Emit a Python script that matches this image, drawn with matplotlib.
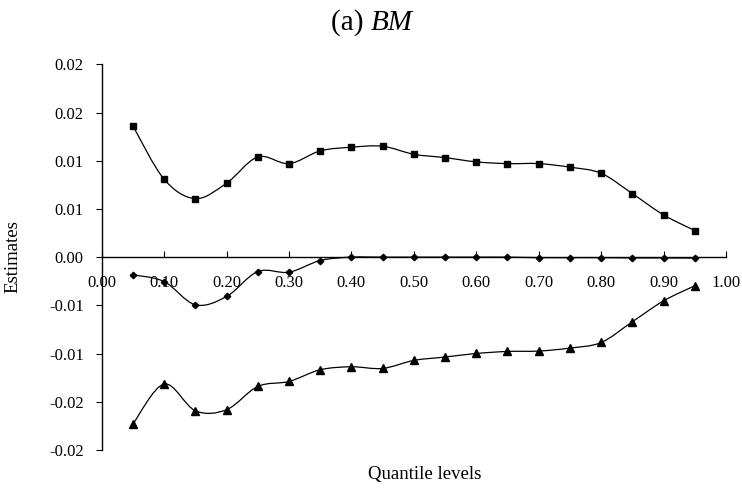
import numpy as np
import matplotlib
matplotlib.use("Agg")
import matplotlib.pyplot as plt
from matplotlib.path import Path
from matplotlib.patches import PathPatch

plt.rcParams['font.family'] = ['Liberation Serif', 'DejaVu Serif']

quantiles = [0.05, 0.10, 0.15, 0.20, 0.25, 0.30, 0.35, 0.40, 0.45, 0.50,
             0.55, 0.60, 0.65, 0.70, 0.75, 0.80, 0.85, 0.90, 0.95]
squares = [0.01361, 0.00808, 0.00607, 0.00767, 0.01039, 0.00970, 0.01102, 0.01140, 0.01150, 0.01067,
           0.01032, 0.00988, 0.00970, 0.00970, 0.00933, 0.00870, 0.00659, 0.00438, 0.00276]
diamonds = [-0.00183, -0.00253, -0.00494, -0.00408, -0.00149, -0.00156, -0.00035, 0.0, 0.0, 0.0,
            0.0, 0.0, 0.0, -0.00005, -0.00005, -0.00005, -0.00008, -0.00008, -0.0001]
triangles = [-0.01731, -0.01316, -0.01593, -0.01582, -0.01341, -0.01289, -0.01168, -0.01137, -0.01154, -0.01071,
             -0.01036, -0.00999, -0.00978, -0.00974, -0.00943, -0.00885, -0.00670, -0.00453, -0.00297]

ytick_vals = [0.02, 0.015, 0.01, 0.005, 0.0, -0.005, -0.01, -0.015, -0.02]
ytick_labels = ['0.02', '0.02', '0.01', '0.01', '0.00', '-0.01', '-0.01', '-0.02', '-0.02']
xtick_vals = [0.0, 0.1, 0.2, 0.3, 0.4, 0.5, 0.6, 0.7, 0.8, 0.9, 1.0]


def smooth_path(x, y):
    # Excel style smoothed line: cubic bezier with catmull-rom control points
    pts = np.column_stack([x, y])
    n = len(pts)
    verts = [pts[0]]
    codes = [Path.MOVETO]
    for i in range(n - 1):
        p0 = pts[max(i - 1, 0)]
        p1 = pts[i]
        p2 = pts[i + 1]
        p3 = pts[min(i + 2, n - 1)]
        c1 = p1 + (p2 - p0) / 6.0
        c2 = p2 - (p3 - p1) / 6.0
        verts += [c1, c2, p2]
        codes += [Path.CURVE4] * 3
    return Path(verts, codes)


fig = plt.figure(figsize=(7.42, 4.88), dpi=100)
ax = fig.add_axes([101.7 / 742, 1 - 450 / 488, (726 - 101.7) / 742, (450 - 64.3) / 488])

for vals, mk, ms in [(squares, 's', 4.8), (diamonds, 'D', 3.3), (triangles, '^', 5.2)]:
    ax.add_patch(PathPatch(smooth_path(quantiles, vals), facecolor='none',
                           edgecolor='black', lw=0.9))
    ax.plot(quantiles, vals, linestyle='none', marker=mk, ms=ms, color='black')

ax.set_xlim(0, 1)
ax.set_ylim(-0.02, 0.02)
ax.spines['top'].set_visible(False)
ax.spines['right'].set_visible(False)
ax.spines['bottom'].set_position(('data', 0))
ax.spines['left'].set_linewidth(1.0)
ax.spines['bottom'].set_linewidth(1.0)

ax.set_yticks(ytick_vals, ytick_labels)
ax.set_xticks(xtick_vals, ['%.2f' % v for v in xtick_vals])
ax.tick_params(axis='y', direction='out', length=4, width=0.8, pad=9, labelsize=12)
ax.tick_params(axis='x', direction='in', length=4, width=0.8, pad=13, labelsize=12)
for lbl in ax.get_xticklabels():
    lbl.set_zorder(0)

fig.text(371 / 742, 1 - 23 / 488, '(a) ', ha='right', va='center', fontsize=21)
fig.text(371 / 742, 1 - 23 / 488, 'BM', ha='left', va='center', fontsize=21, style='italic')
fig.text(425 / 742, 1 - 475 / 488, 'Quantile levels', ha='center', va='center', fontsize=13.5)
fig.text(13 / 742, 1 - 257 / 488, 'Estimates', ha='center', va='center', rotation=90, fontsize=13.5)

fig.savefig('out.png', dpi=100)
